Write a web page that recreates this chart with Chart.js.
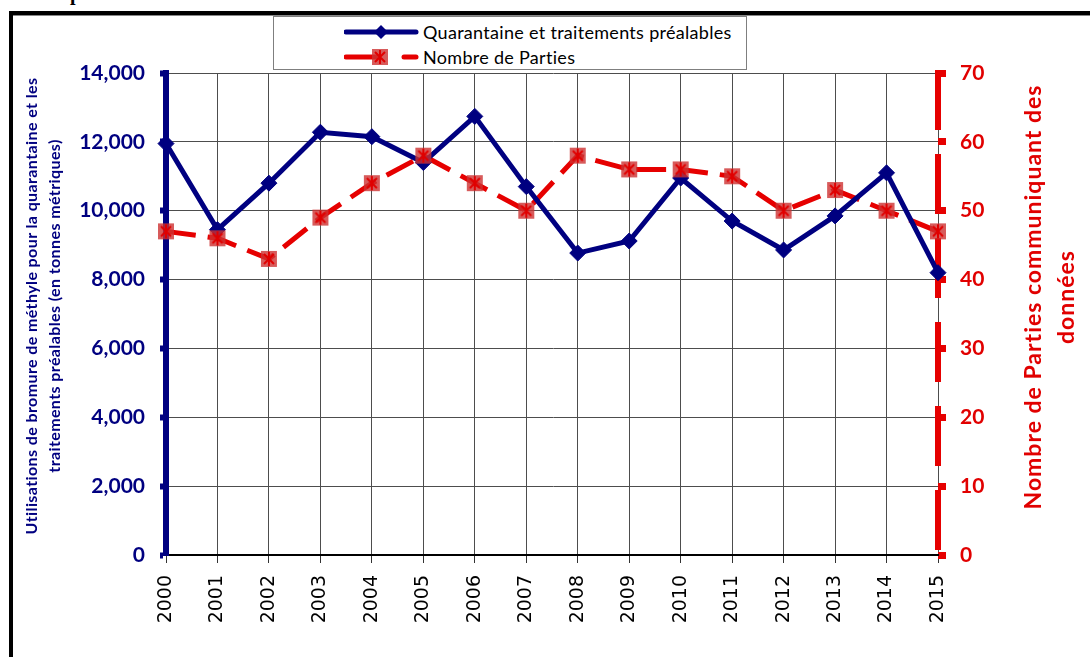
<!DOCTYPE html>
<html>
<head>
<meta charset="utf-8">
<script src="https://cdn.jsdelivr.net/npm/chart.js@4/dist/chart.umd.min.js"></script>
<style>
  html,body{margin:0;padding:0;background:#fff;}
  #wrap{position:relative;width:1090px;height:657px;overflow:hidden;background:#fff;}
  #c{position:absolute;left:0;top:0;}
  #frame{position:absolute;left:9px;top:11px;right:-10px;bottom:-10px;border-left:4px solid #000;border-top:4px solid #000;box-shadow:inset 0 1px 0 #888;}
  #legend{position:absolute;left:273px;top:16px;width:472px;height:52px;border:1px solid #7f7f7f;background:#fff;font-family:Lato,"Liberation Sans",sans-serif;font-size:18px;letter-spacing:0.3px;color:#000;}
  .row{position:absolute;left:0;height:26px;line-height:26px;}
  .row svg{position:absolute;left:70px;top:0;}
  .row span{position:absolute;left:149px;top:0;white-space:nowrap;}
  .ytitle{position:absolute;text-align:center;font-family:Lato,"Liberation Sans",sans-serif;font-weight:bold;transform:rotate(-90deg);transform-origin:50% 50%;white-space:nowrap;}
  #ltitle{color:#000080;font-size:16px;letter-spacing:0.4px;line-height:23px;width:520px;height:46px;left:-218px;top:283px;}
  #rtitle{color:#E10000;font-size:23px;letter-spacing:1px;line-height:33px;width:520px;height:66px;left:789px;top:264px;}
  #ptop{position:absolute;left:70px;top:-18px;font-family:"Liberation Serif",serif;font-weight:bold;font-size:20px;color:#000;}
</style>
</head>
<body>
<div id="wrap">
  <div id="ptop">p</div>
  <div id="frame"></div>
  <canvas id="c" width="1090" height="657"></canvas>
  <div id="legend">
    <div class="row" style="top:2px;">
      <svg width="80" height="26"><line x1="2" y1="13" x2="72" y2="13" stroke="#000080" stroke-width="5" stroke-linecap="round"/><polygon points="37,6 44,13 37,20 30,13" fill="#000080"/></svg>
      <span>Quarantaine et traitements préalables</span>
    </div>
    <div class="row" style="top:27px;">
      <svg width="80" height="26"><line x1="2" y1="13" x2="34" y2="13" stroke="#E60000" stroke-width="5" stroke-linecap="round"/><line x1="60" y1="13" x2="72" y2="13" stroke="#E60000" stroke-width="5" stroke-linecap="round"/><rect x="28" y="5" width="16" height="16" fill="rgba(205,50,50,0.8)"/><path d="M31,8 L41,18 M41,8 L31,18 M36,6 L36,20" stroke="#E00000" stroke-width="2"/></svg>
      <span>Nombre de Parties</span>
    </div>
  </div>
  <div id="ltitle" class="ytitle">Utilisations de bromure de méthyle pour la quarantaine et les<br>traitements préalables (en tonnes métriques)</div>
  <div id="rtitle" class="ytitle">Nombre de Parties communiquant des<br>données</div>
</div>
<script>
// ---- data ----
const years = ['2000','2001','2002','2003','2004','2005','2006','2007','2008','2009','2010','2011','2012','2013','2014','2015'];
const quarantineTonnes = [11950, 9450, 10800, 12280, 12150, 11400, 12740, 10700, 8770, 9120, 10950, 9700, 8860, 9850, 11100, 8200];
const partiesReporting = [47, 46, 43, 49, 54, 58, 54, 50, 58, 56, 56, 55, 50, 53, 50, 47];
const leftTicks = [0, 2000, 4000, 6000, 8000, 10000, 12000, 14000];
const rightTicks = [0, 10, 20, 30, 40, 50, 60, 70];

const NAVY = '#000080';
const RED = '#E60000';
const REDTXT = '#E10000';
const GRID = '#4d4d4d';

function makeMarker(){
  const c = document.createElement('canvas');
  c.width = 18; c.height = 18;
  const g = c.getContext('2d');
  g.fillStyle = 'rgba(205,50,50,0.8)';
  g.fillRect(1,1,16,16);
  g.strokeStyle = '#E00000';
  g.lineWidth = 2;
  g.beginPath();
  g.moveTo(4,4); g.lineTo(14,14);
  g.moveTo(14,4); g.lineTo(4,14);
  g.moveTo(9,2); g.lineTo(9,16);
  g.stroke();
  return c;
}
const redMarker = makeMarker();

// dashed secondary axis line, drawn from the y2 scale geometry
const dashedAxis = {
  id: 'dashedAxis',
  beforeDatasetsDraw(chart) {
    const s = chart.scales.y2;
    const ctx = chart.ctx;
    ctx.save();
    ctx.strokeStyle = RED;
    ctx.lineWidth = 6;
    ctx.setLineDash([60, 24]);
    ctx.beginPath();
    ctx.moveTo(s.left, s.top - 3);
    ctx.lineTo(s.left, s.bottom);
    ctx.stroke();
    ctx.restore();
  }
};

const chart = new Chart(document.getElementById('c'), {
  type: 'line',
  data: {
    labels: years,
    datasets: [
      {
        label: 'Nombre de Parties (ligne)',
        data: partiesReporting,
        yAxisID: 'y2',
        borderColor: RED,
        borderWidth: 5,
        borderDash: [30, 12],
        pointRadius: 0,
        pointHoverRadius: 0,
        tension: 0,
        order: 3
      },
      {
        label: 'Quarantaine et traitements préalables',
        data: quarantineTonnes,
        yAxisID: 'y',
        borderColor: NAVY,
        backgroundColor: NAVY,
        borderWidth: 5,
        pointStyle: 'rectRot',
        pointRadius: 8,
        pointBackgroundColor: NAVY,
        pointBorderColor: NAVY,
        pointBorderWidth: 1,
        tension: 0,
        order: 2
      },
      {
        label: 'Nombre de Parties',
        data: partiesReporting,
        yAxisID: 'y2',
        showLine: false,
        pointStyle: redMarker,
        pointRadius: 9,
        tension: 0,
        order: 1
      }
    ]
  },
  options: {
    responsive: false,
    animation: false,
    locale: 'en-US',
    layout: { padding: { left: 0, right: 0, top: 73, bottom: 0 } },
    plugins: { legend: { display: false }, tooltip: { enabled: false } },
    scales: {
      x: {
        type: 'category',
        offset: false,
        afterFit: s => { s.height = 102; },
        grid: { color: GRID, lineWidth: 1, tickLength: 8, tickColor: '#333', drawTicks: true },
        border: { display: true, color: '#000', width: 2 },
        ticks: {
          autoSkip: false, minRotation: 90, maxRotation: 90, padding: 12,
          color: '#000', font: { family: 'DejaVu Sans', size: 19 }
        }
      },
      y: {
        position: 'left',
        min: 0, max: 14000,
        afterFit: s => { s.width = 166; },
        afterBuildTicks: s => { s.ticks = leftTicks.map(v => ({ value: v })); },
        grid: { color: GRID, lineWidth: 1, tickLength: 6, tickColor: NAVY, tickWidth: 6 },
        border: { display: true, color: NAVY, width: 6 },
        ticks: {
          padding: 15, color: NAVY,
          font: { family: 'Lato', weight: 'bold', size: 21 },
          callback: v => v.toLocaleString('en-US')
        }
      },
      y2: {
        position: 'right',
        min: 0, max: 70,
        afterFit: s => { s.width = 152; },
        afterBuildTicks: s => { s.ticks = rightTicks.map(v => ({ value: v })); },
        grid: { drawOnChartArea: false, tickLength: 8, tickColor: RED, tickWidth: 7 },
        border: { display: false },
        ticks: {
          padding: 14, color: REDTXT,
          font: { family: 'Lato', weight: 'bold', size: 21 }
        }
      }
    }
  },
  plugins: [dashedAxis]
});
</script>
</body>
</html>
